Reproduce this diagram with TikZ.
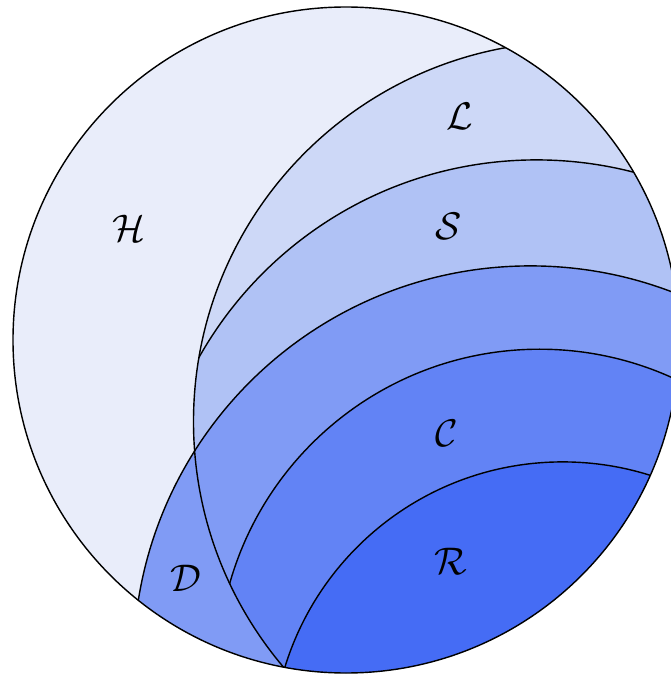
\documentclass[tikz,border=0pt]{standalone}
\usepackage{amsmath, amssymb}
\usepackage{tikz}
\usepackage{xcolor}
\definecolor{shadeH}{HTML}{E9EDFA}
\definecolor{shadeL}{HTML}{CDD8F7}
\definecolor{shadeS}{HTML}{B0C2F5}
\definecolor{shadeD}{HTML}{809BF5}
\definecolor{shadeC}{HTML}{6283F5}
\definecolor{shadeR}{HTML}{456CF5}

\begin{document}
\begin{tikzpicture}
    \useasboundingbox (-3.46, -3.35) rectangle (3.25, 3.40);
    \coordinate (cH) at (0, 0);
    \coordinate (cL) at (2.275, -0.816);
    \coordinate (cS) at (1.905, -2.069);
    \coordinate (cD) at (1.844, -3.229);
    \coordinate (cC) at (1.936, -3.312);
    \coordinate (cR) at (2.167, -4.124);

    \fill[shadeH] (cH) circle (3.33);
    \begin{scope}
      \clip (cH) circle (3.33);
      \fill[shadeL] (cL) circle (3.80);
      \begin{scope}
        \clip (cL) circle (3.80);
        \filldraw[fill=shadeS, draw=black, thin] (cS) circle (3.87);
      \end{scope}
      \filldraw[fill=shadeD, draw=black, thin] (cD) circle (3.97);
      \begin{scope}
        \clip (cL) circle (3.80);
        \filldraw[fill=shadeC, draw=black, thin] (cC) circle (3.22);
        \filldraw[fill=shadeR, draw=black, thin] (cR) circle (2.905);
      \end{scope}
      \draw[thin] (cL) circle (3.80);
    \end{scope}
    \draw[thin] (cH) circle (3.33);

    \node[font=\fontsize{11}{13}\selectfont] (hH) at (-2.17, 1.12) {$\mathcal{H}$};
    \node[font=\fontsize{11}{13}\selectfont] (hL) at (1.14, 2.24) {$\mathcal{L}$};
    \node[font=\fontsize{11}{13}\selectfont] (hS) at (1.03, 1.14) {$\mathcal{S}$};
    \node[font=\fontsize{11}{13}\selectfont] (hD) at (-1.60, -2.38) {$\mathcal{D}$};
    \node[font=\fontsize{11}{13}\selectfont] (hC) at (1.01, -0.93) {$\mathcal{C}$};
    \node[font=\fontsize{11}{13}\selectfont] (hR) at (1.05, -2.21) {$\mathcal{R}$};
  \end{tikzpicture}
\end{document}
